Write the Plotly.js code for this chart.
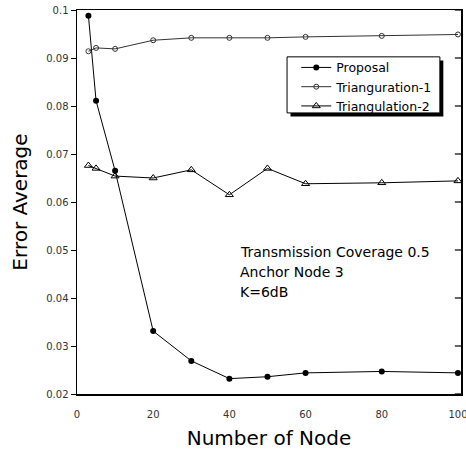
<!DOCTYPE html>
<html><head><meta charset="utf-8">
<script src="https://cdn.plot.ly/plotly-3.0.1.min.js"></script>
<style>body{margin:0;background:#fff}#c{width:466px;height:450px}</style>
</head><body><div id="c"></div>
<script>
const nodes = [3, 5, 10, 20, 30, 40, 50, 60, 80, 100];
const proposal = [0.0988, 0.0811, 0.0665, 0.0331, 0.0269, 0.0232, 0.0236, 0.0244, 0.0247, 0.0244];
const triang1 = [0.0914, 0.0921, 0.0919, 0.0937, 0.0942, 0.0942, 0.0942, 0.0944, 0.0946, 0.0949];
const triang2 = [0.0676, 0.0670, 0.0654, 0.0650, 0.0667, 0.0615, 0.0670, 0.0638, 0.0640, 0.0644];
const names = ['Proposal', 'Trianguration-1', 'Triangulation-2'];
const xTicks = [0, 20, 40, 60, 80, 100];
const yTicks = [0.02, 0.03, 0.04, 0.05, 0.06, 0.07, 0.08, 0.09, 0.1];
const yTickText = ['0.02', '0.03', '0.04', '0.05', '0.06', '0.07', '0.08', '0.09', '0.1'];
const noteLines = ['Transmission Coverage 0.5', 'Anchor Node 3', 'K=6dB'];

const font = 'DejaVu Sans, sans-serif';
const traces = [
  {x: nodes, y: proposal, name: names[0], mode: 'lines+markers',
   line: {color: '#000', width: 1}, marker: {symbol: 'circle', size: 6, color: '#000'}},
  {x: nodes, y: triang1, name: names[1], mode: 'lines+markers',
   line: {color: '#333', width: 1}, marker: {symbol: 'circle-open', size: 5, color: '#333', line: {width: 1}}},
  {x: nodes, y: triang2, name: names[2], mode: 'lines+markers',
   line: {color: '#000', width: 1}, marker: {symbol: 'triangle-up-open', size: 7, color: '#000', line: {width: 1}}}
];
// inward tick marks on the right frame edge, one per y tick value
const rightTicks = yTicks.map(v => ({
  type: 'line', xref: 'paper', x0: 0.984, x1: 1,
  yref: 'y', y0: v, y1: v, line: {color: '#000', width: 1.2}, layer: 'above'
}));
// legend frame with drop shadow
const legendFrame = [
  {type: 'rect', xref: 'paper', yref: 'paper', x0: 0.556, x1: 0.954, y0: 0.7225, y1: 0.8685,
   fillcolor: '#000', line: {width: 0}, layer: 'above'},
  {type: 'rect', xref: 'paper', yref: 'paper', x0: 0.547, x1: 0.945, y0: 0.732, y1: 0.878,
   fillcolor: '#fff', line: {color: '#000', width: 1}, layer: 'above'}
];
const layout = {
  width: 466, height: 450,
  margin: {l: 77, r: 5, t: 10, b: 56},
  paper_bgcolor: '#fff', plot_bgcolor: '#fff',
  font: {family: font, color: '#000'},
  showlegend: true,
  legend: {x: 0.571, y: 0.800, xanchor: 'left', yanchor: 'middle',
    bgcolor: 'rgba(0,0,0,0)', borderwidth: 0,
    font: {family: font, size: 12.5, color: '#000'}, tracegroupgap: 0, itemwidth: 30},
  shapes: rightTicks.concat(legendFrame),
  xaxis: {range: [0, 100.8], tickvals: xTicks, ticktext: xTicks.map(String),
    showgrid: false, zeroline: false, showline: true, linecolor: '#000', linewidth: 1.5,
    mirror: true, ticks: '', ticklabelstandoff: 10, ticklabeloverflow: 'allow',
    tickfont: {size: 10, color: '#333', family: font},
    title: {text: 'Number of Node', font: {size: 20, family: font, color: '#000'}, standoff: 14}},
  yaxis: {range: [0.02, 0.1], tickvals: yTicks, ticktext: yTickText,
    showgrid: false, zeroline: false, showline: true, linecolor: '#000', linewidth: 1.5,
    mirror: true, ticks: 'outside', ticklen: 5, tickcolor: '#000',
    tickfont: {size: 10, color: '#333', family: font},
    title: {text: 'Error Average', font: {size: 20, family: font, color: '#000'}, standoff: 13}},
  annotations: noteLines.map((t, i) => ({
    xref: 'paper', yref: 'paper', x: 0.42, y: 0.370 - i * 0.052,
    xanchor: 'left', yanchor: 'middle', showarrow: false, text: t,
    font: {family: font, size: 14, color: '#000'}
  }))
};
Plotly.newPlot('c', traces, layout, {displayModeBar: false, staticPlot: true});
</script></body></html>
